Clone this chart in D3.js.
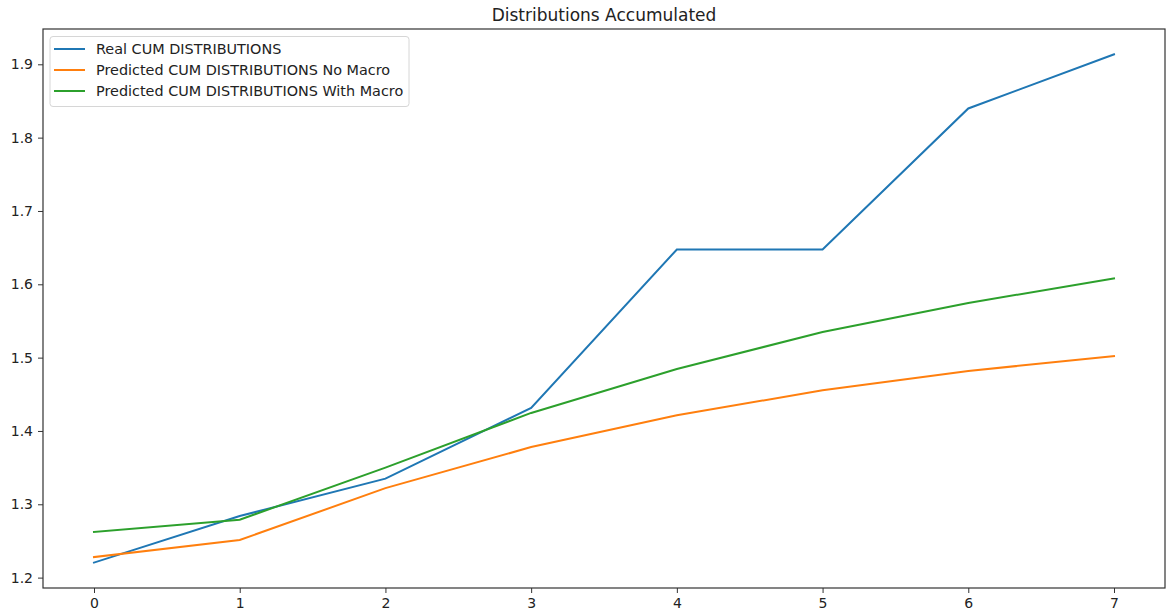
<!DOCTYPE html>
<html>
<head>
<meta charset="utf-8">
<script src="https://cdn.jsdelivr.net/npm/d3@7"></script>
<style>
  html, body { margin: 0; padding: 0; background: #fff; }
  svg { display: block; font-family: "DejaVu Sans", sans-serif; }
</style>
</head>
<body>
<svg id="chart" width="1166" height="616"></svg>
<script>
const title = "Distributions Accumulated";
const steps = [0, 1, 2, 3, 4, 5, 6, 7];
const realCum = [1.2205, 1.284, 1.335, 1.4314, 1.6475, 1.6475, 1.8398, 1.9135];
const predNoMacro = [1.228, 1.2513, 1.322, 1.378, 1.4214, 1.4555, 1.4819, 1.502];
const predWithMacro = [1.2622, 1.279, 1.350, 1.4246, 1.4845, 1.535, 1.5746, 1.608];
const seriesNames = ["Real CUM DISTRIBUTIONS", "Predicted CUM DISTRIBUTIONS No Macro", "Predicted CUM DISTRIBUTIONS With Macro"];
const seriesColors = ["#1f77b4", "#ff7f0e", "#2ca02c"];
const xTicks = [0, 1, 2, 3, 4, 5, 6, 7];
const yTicks = [1.2, 1.3, 1.4, 1.5, 1.6, 1.7, 1.8, 1.9];

const series = [realCum, predNoMacro, predWithMacro];

const svg = d3.select("#chart");
const L = 43, R = 1165, T = 29, B = 588;

const xMin = d3.min(steps), xMax = d3.max(steps);
const xPad = (xMax - xMin) * 0.05;
const x = d3.scaleLinear().domain([xMin - xPad, xMax + xPad]).range([L, R]);

const allY = series.flat();
const yMin = d3.min(allY), yMax = d3.max(allY);
const yPad = (yMax - yMin) * 0.05;
const y = d3.scaleLinear().domain([yMin - yPad, yMax + yPad]).range([B, T]);

// axes
const xAxis = svg.append("g").attr("transform", `translate(0,${B})`)
  .call(d3.axisBottom(x).tickValues(xTicks).tickFormat(d3.format("d")).tickSize(5).tickPadding(5));
const yAxis = svg.append("g").attr("transform", `translate(${L},0)`)
  .call(d3.axisLeft(y).tickValues(yTicks).tickFormat(d3.format(".1f")).tickSize(5).tickPadding(5));
[xAxis, yAxis].forEach(g => {
  g.select(".domain").remove();
  g.selectAll(".tick line").attr("stroke", "#333").attr("stroke-width", 1);
  g.selectAll(".tick text").attr("fill", "#222").style("font-size", "14px").style("font-family", "DejaVu Sans, sans-serif");
});

// lines
const line = d3.line().x((d, i) => x(steps[i])).y(d => y(d));
series.forEach((s, k) => {
  svg.append("path").datum(s)
    .attr("d", line)
    .attr("fill", "none")
    .attr("stroke", seriesColors[k])
    .attr("stroke-width", 2)
    .attr("stroke-linejoin", "miter")
    .attr("stroke-linecap", "square");
});

// frame
svg.append("rect").attr("x", L).attr("y", T).attr("width", R - L).attr("height", B - T)
  .attr("fill", "none").attr("stroke", "#333").attr("stroke-width", 1.2);

// title
svg.append("text").attr("x", (L + R) / 2).attr("y", 21).attr("text-anchor", "middle")
  .style("font-size", "17px").attr("fill", "#222").text(title);

// legend
const lg = svg.append("g");
lg.append("rect").attr("x", 50).attr("y", 36.5).attr("width", 359).attr("height", 70).attr("rx", 3)
  .attr("fill", "#fff").attr("fill-opacity", 0.8).attr("stroke", "#d6d6d6").attr("stroke-width", 1);
seriesNames.forEach((name, k) => {
  const yy = 49 + k * 21;
  lg.append("line").attr("x1", 54).attr("x2", 85).attr("y1", yy).attr("y2", yy)
    .attr("stroke", seriesColors[k]).attr("stroke-width", 2);
  lg.append("text").attr("x", 96).attr("y", yy).attr("dy", "0.35em")
    .style("font-size", "14.4px").attr("fill", "#222").text(name);
});
</script>
</body>
</html>
